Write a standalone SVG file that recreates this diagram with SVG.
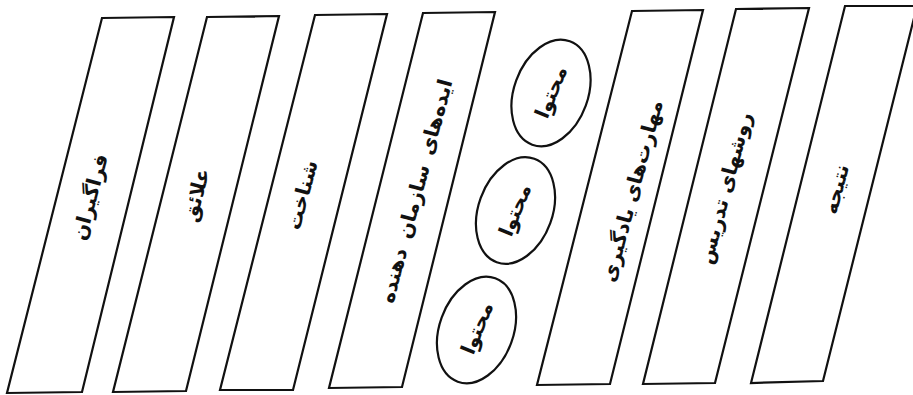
<svg xmlns="http://www.w3.org/2000/svg" width="913" height="395" viewBox="0 0 913 395">
<style>
.box{fill:#fff;stroke:#111;stroke-width:2.2;stroke-linejoin:miter}
.ell{fill:#fff;stroke:#111;stroke-width:2.2}
.t{font-family:"DejaVu Sans",sans-serif;font-size:20px;font-weight:bold;fill:#111;text-anchor:middle;dominant-baseline:central;direction:rtl}
</style>
<rect width="913" height="395" fill="#fff"/>
<g id="connectors"></g>
<g id="n1"><polygon class="box" points="102,18 174,17 82,392 7,393"/><text class="t" transform="translate(90,197) rotate(-75)">فراگیران</text></g>
<g id="n2"><polygon class="box" points="207,17 279,16 186,391 113,392"/><text class="t" transform="translate(196,195) rotate(-75)">علائق</text></g>
<g id="n3"><polygon class="box" points="315,15 387,14 293,390 220,390"/><text class="t" transform="translate(302,195) rotate(-75)">شناخت</text></g>
<g id="n4"><polygon class="box" points="423,13 495,12 402,387 329,388"/><text class="t" style="word-spacing:4px" transform="translate(416,191) rotate(-75)">ایده‌های سازمان دهنده</text></g>
<g id="e1"><ellipse class="ell" cx="551" cy="93" rx="37" ry="55" transform="rotate(20 551 93)"/><text class="t" transform="translate(551,92) rotate(-68)">محتوا</text></g>
<g id="e2"><ellipse class="ell" cx="515.5" cy="210.5" rx="37" ry="55" transform="rotate(20 515.5 210.5)"/><text class="t" transform="translate(515,210) rotate(-68)">محتوا</text></g>
<g id="e3"><ellipse class="ell" cx="476.5" cy="330" rx="37" ry="55" transform="rotate(20 476.5 330)"/><text class="t" transform="translate(477,328) rotate(-68)">محتوا</text></g>
<g id="n5"><polygon class="box" points="632,11 703,10 610,384 537,385"/><text class="t" transform="translate(632,191) rotate(-75)">مهارت‌های یادگیری</text></g>
<g id="n6"><polygon class="box" points="736,9 809,8 715,383 643,384"/><text class="t" transform="translate(725,188) rotate(-75)">روشهای تدریس</text></g>
<g id="n7"><polygon class="box" points="845,6 917,6 823,381 751,383"/><text class="t" transform="translate(836,189) rotate(-75)">نتیجه</text></g>
</svg>
